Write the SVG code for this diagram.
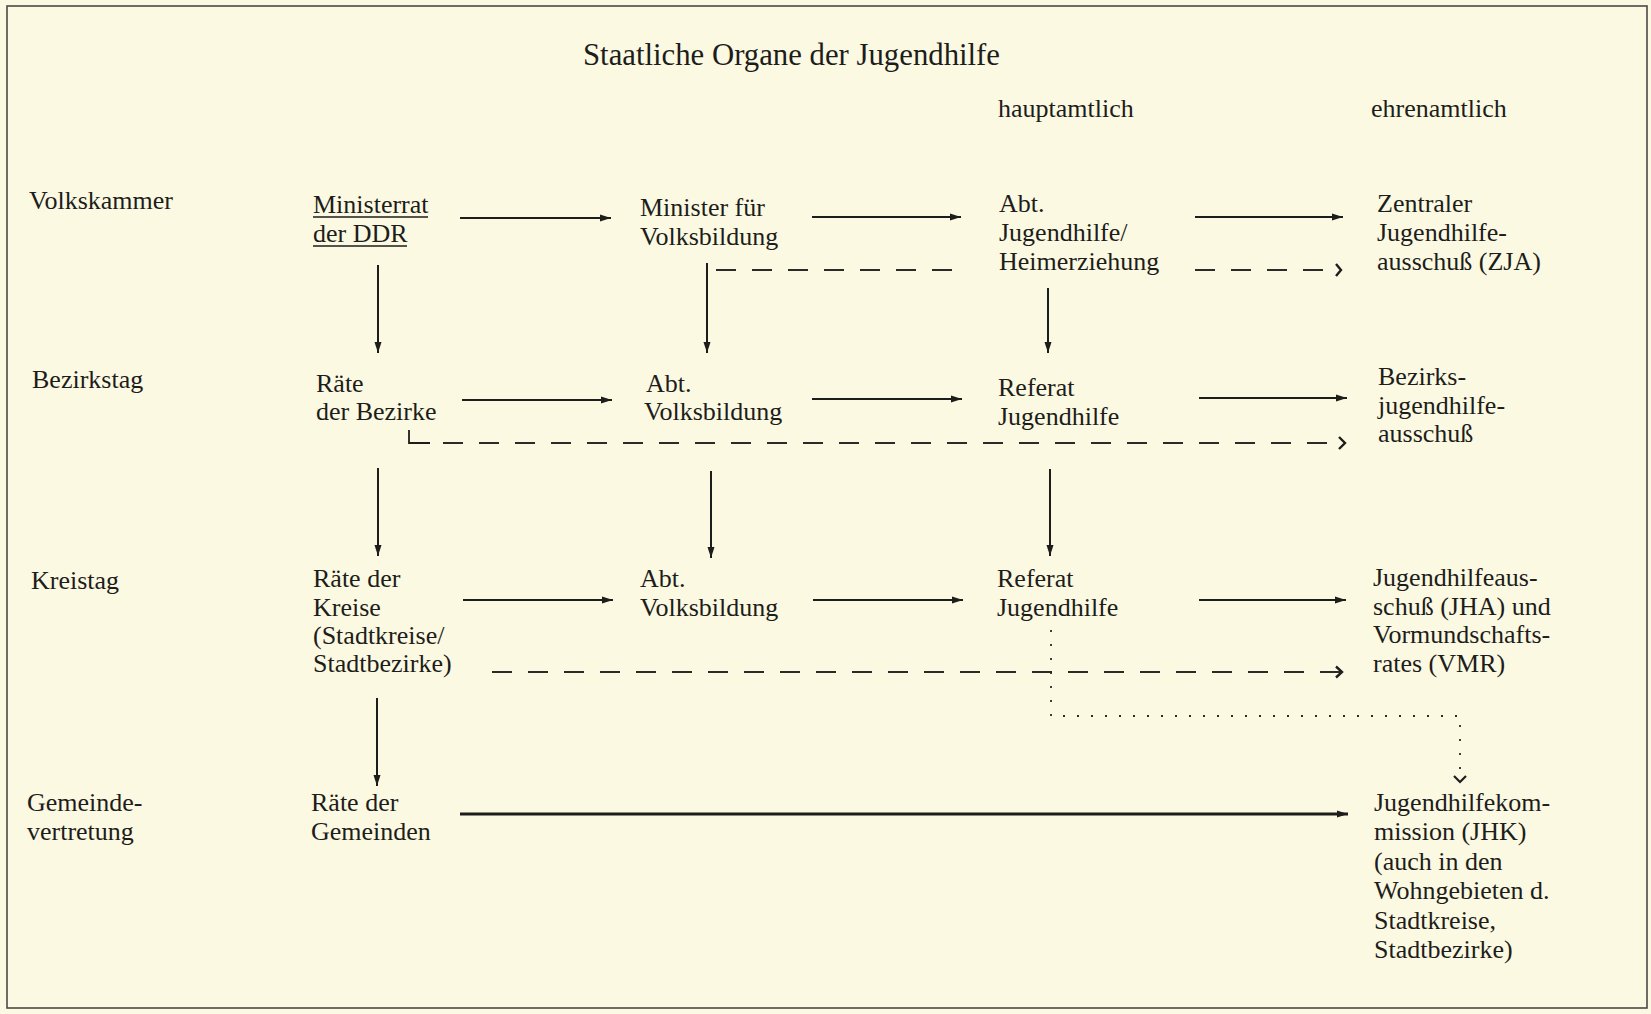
<svg xmlns="http://www.w3.org/2000/svg" width="1651" height="1014" viewBox="0 0 1651 1014">
  <style>
    text { font-family: "Liberation Serif", "Times New Roman", serif; font-size: 26px; fill: #1d1d1b; }
    .title { font-size: 31px; }
    .line { stroke: #1d1d1b; stroke-width: 2; fill: none; }
    .bold { stroke-width: 3; }
    .dash { stroke: #2a2a28; stroke-width: 1.8; fill: none; stroke-dasharray: 20 16; }
    .dot { stroke: #2a2a28; stroke-width: 1.8; fill: none; stroke-dasharray: 2 12; }
    .ul { stroke: #1d1d1b; stroke-width: 1.6; }
  </style>
  <defs>
    <marker id="arrow" markerUnits="userSpaceOnUse" markerWidth="12" markerHeight="10" refX="11" refY="5" orient="auto">
      <path d="M0,1.5 L11,5 L0,8.5 Z" fill="#1d1d1b"/>
    </marker>
    <marker id="chevron" markerUnits="userSpaceOnUse" markerWidth="10" markerHeight="14" refX="8" refY="7" orient="auto">
      <path d="M2,1.5 L8,7 L2,12.5" fill="none" stroke="#1d1d1b" stroke-width="2.4"/>
    </marker>
  </defs>

  <!-- page -->
  <rect x="0" y="0" width="1651" height="1014" fill="#fcf9e2"/>
  <rect x="7" y="6" width="1640" height="1002" fill="none" stroke="#4a4a46" stroke-width="1.6"/>

  <!-- headings -->
  <text class="title" x="583" y="65" textLength="417" lengthAdjust="spacingAndGlyphs">Staatliche Organe der Jugendhilfe</text>
  <text x="998" y="117">hauptamtlich</text>
  <text x="1371" y="117">ehrenamtlich</text>

  <!-- level labels -->
  <g id="level-volkskammer"><text x="29" y="209">Volkskammer</text></g>
  <g id="level-bezirkstag"><text x="32" y="388">Bezirkstag</text></g>
  <g id="level-kreistag"><text x="31" y="589">Kreistag</text></g>
  <g id="level-gemeinde"><text x="27" y="811">Gemeinde-</text><text x="27" y="840">vertretung</text></g>

  <!-- column 1 -->
  <g id="ministerrat">
    <text x="313" y="213">Ministerrat</text>
    <text x="313" y="242">der DDR</text>
    <line class="ul" x1="313" y1="217" x2="428" y2="217"/>
    <line class="ul" x1="313" y1="246" x2="407" y2="246"/>
  </g>
  <g id="raete-bezirke"><text x="316" y="392">Räte</text><text x="316" y="420">der Bezirke</text></g>
  <g id="raete-kreise">
    <text x="313" y="587">Räte der</text><text x="313" y="616">Kreise</text>
    <text x="313" y="644">(Stadtkreise/</text><text x="313" y="672">Stadtbezirke)</text>
  </g>
  <g id="raete-gemeinden"><text x="311" y="811">Räte der</text><text x="311" y="840">Gemeinden</text></g>

  <!-- column 2 -->
  <g id="minister-volksbildung"><text x="640" y="216">Minister für</text><text x="640" y="245">Volksbildung</text></g>
  <g id="abt-volksbildung-bezirk"><text x="646" y="392">Abt.</text><text x="644" y="420">Volksbildung</text></g>
  <g id="abt-volksbildung-kreis"><text x="640" y="587">Abt.</text><text x="640" y="616">Volksbildung</text></g>

  <!-- column 3 -->
  <g id="abt-jugendhilfe">
    <text x="999" y="212">Abt.</text><text x="999" y="241">Jugendhilfe/</text><text x="999" y="270">Heimerziehung</text>
  </g>
  <g id="referat-bezirk"><text x="998" y="396">Referat</text><text x="998" y="425">Jugendhilfe</text></g>
  <g id="referat-kreis"><text x="997" y="587">Referat</text><text x="997" y="616">Jugendhilfe</text></g>

  <!-- column 4 -->
  <g id="zja">
    <text x="1377" y="212">Zentraler</text><text x="1377" y="241">Jugendhilfe-</text><text x="1377" y="270">ausschuß (ZJA)</text>
  </g>
  <g id="bezirksjugendhilfeausschuss">
    <text x="1378" y="385">Bezirks-</text><text x="1378" y="414">jugendhilfe-</text><text x="1378" y="442">ausschuß</text>
  </g>
  <g id="jha-vmr">
    <text x="1373" y="586">Jugendhilfeaus-</text><text x="1373" y="615">schuß (JHA) und</text>
    <text x="1373" y="643">Vormundschafts-</text><text x="1373" y="672">rates (VMR)</text>
  </g>
  <g id="jhk">
    <text x="1374" y="811">Jugendhilfekom-</text><text x="1374" y="840">mission (JHK)</text>
    <text x="1374" y="870">(auch in den</text><text x="1374" y="899">Wohngebieten d.</text>
    <text x="1374" y="929">Stadtkreise,</text><text x="1374" y="958">Stadtbezirke)</text>
  </g>

  <!-- connectors -->
  <g id="connectors">
    <!-- row Volkskammer -->
    <line class="line" x1="460" y1="218" x2="611" y2="218" marker-end="url(#arrow)"/>
    <line class="line" x1="812" y1="217" x2="961" y2="217" marker-end="url(#arrow)"/>
    <line class="line" x1="1195" y1="217" x2="1343" y2="217" marker-end="url(#arrow)"/>
    <line class="dash" x1="716" y1="270" x2="956" y2="270"/>
    <line class="dash" x1="1195" y1="270" x2="1331" y2="270"/>
    <path d="M1336,264 L1341,270 L1336,276" fill="none" stroke="#1d1d1b" stroke-width="2.4"/>

    <!-- verticals Volkskammer to Bezirkstag -->
    <line class="line" x1="378" y1="265" x2="378" y2="353" marker-end="url(#arrow)"/>
    <line class="line" x1="707" y1="263" x2="707" y2="353" marker-end="url(#arrow)"/>
    <line class="line" x1="1048" y1="288" x2="1048" y2="353" marker-end="url(#arrow)"/>

    <!-- row Bezirkstag -->
    <line class="line" x1="462" y1="400" x2="612" y2="400" marker-end="url(#arrow)"/>
    <line class="line" x1="812" y1="399" x2="962" y2="399" marker-end="url(#arrow)"/>
    <line class="line" x1="1199" y1="398" x2="1347" y2="398" marker-end="url(#arrow)"/>
    <path d="M409,430 L409,443 L430,443" fill="none" stroke="#1d1d1b" stroke-width="1.8"/>
    <line class="dash" x1="443" y1="443" x2="1336" y2="443"/>
    <path d="M1339,437 L1345,443 L1339,449" fill="none" stroke="#1d1d1b" stroke-width="2.4"/>

    <!-- verticals Bezirkstag to Kreistag -->
    <line class="line" x1="378" y1="468" x2="378" y2="556" marker-end="url(#arrow)"/>
    <line class="line" x1="711" y1="471" x2="711" y2="558" marker-end="url(#arrow)"/>
    <line class="line" x1="1050" y1="469" x2="1050" y2="556" marker-end="url(#arrow)"/>

    <!-- row Kreistag -->
    <line class="line" x1="463" y1="600" x2="613" y2="600" marker-end="url(#arrow)"/>
    <line class="line" x1="813" y1="600" x2="963" y2="600" marker-end="url(#arrow)"/>
    <line class="line" x1="1199" y1="600" x2="1346" y2="600" marker-end="url(#arrow)"/>
    <line class="dash" x1="492" y1="672" x2="1342" y2="672" marker-end="url(#chevron)"/>

    <!-- dotted link Referat Jugendhilfe to JHK -->
    <polyline class="dot" points="1051,630 1051,716 1460,716 1460,780"/>
    <path d="M1454,776 L1460,782 L1466,776" fill="none" stroke="#1d1d1b" stroke-width="2.2"/>

    <!-- vertical Kreistag to Gemeinde -->
    <line class="line" x1="377" y1="698" x2="377" y2="786" marker-end="url(#arrow)"/>

    <!-- row Gemeinde -->
    <line class="line bold" x1="460" y1="814" x2="1348" y2="814" marker-end="url(#arrow)"/>
  </g>
</svg>
